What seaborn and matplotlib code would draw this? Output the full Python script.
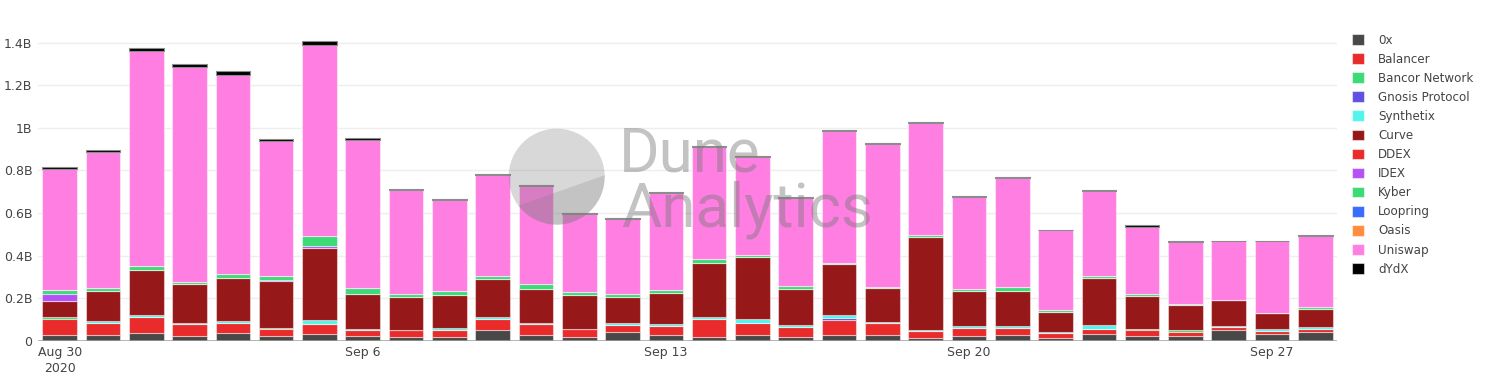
import numpy as np
import pandas as pd
import matplotlib
matplotlib.use("Agg")
import matplotlib.pyplot as plt
from matplotlib.patches import Patch, Polygon
import seaborn as sns

# ---------------- data (billions USD) ----------------
dates = ["2020-08-30", "2020-08-31", "2020-09-01", "2020-09-02", "2020-09-03",
         "2020-09-04", "2020-09-05", "2020-09-06", "2020-09-07", "2020-09-08",
         "2020-09-09", "2020-09-10", "2020-09-11", "2020-09-12", "2020-09-13",
         "2020-09-14", "2020-09-15", "2020-09-16", "2020-09-17", "2020-09-18",
         "2020-09-19", "2020-09-20", "2020-09-21", "2020-09-22", "2020-09-23",
         "2020-09-24", "2020-09-25", "2020-09-26", "2020-09-27", "2020-09-28"]

zerox = [0.025, 0.027, 0.038, 0.023, 0.034, 0.020, 0.030, 0.020, 0.017, 0.017,
         0.052, 0.025, 0.016, 0.039, 0.025, 0.019, 0.025, 0.019, 0.025, 0.025,
         0.013, 0.021, 0.027, 0.014, 0.033, 0.023, 0.023, 0.049, 0.033, 0.039]
balancer = [0.078, 0.054, 0.072, 0.054, 0.049, 0.035, 0.047, 0.030, 0.032, 0.035,
            0.048, 0.052, 0.037, 0.035, 0.042, 0.083, 0.058, 0.044, 0.071, 0.056,
            0.034, 0.040, 0.034, 0.022, 0.022, 0.026, 0.019, 0.015, 0.014, 0.017]
bancor = [0.007, 0.000, 0.000, 0.000, 0.000, 0.005, 0.000, 0.000, 0.000, 0.000,
          0.000, 0.000, 0.003, 0.000, 0.000, 0.000, 0.000, 0.000, 0.000, 0.000,
          0.000, 0.000, 0.000, 0.000, 0.000, 0.006, 0.007, 0.000, 0.000, 0.000]
gnosis = [0.000, 0.000, 0.000, 0.000, 0.000, 0.000, 0.000, 0.000, 0.000, 0.000,
          0.000, 0.000, 0.000, 0.000, 0.000, 0.000, 0.000, 0.000, 0.010, 0.000,
          0.000, 0.000, 0.000, 0.000, 0.000, 0.000, 0.000, 0.000, 0.000, 0.000]
synthetix = [0.002, 0.013, 0.011, 0.006, 0.009, 0.000, 0.020, 0.005, 0.003, 0.009,
             0.010, 0.008, 0.000, 0.007, 0.011, 0.009, 0.020, 0.011, 0.014, 0.008,
             0.005, 0.007, 0.008, 0.005, 0.020, 0.000, 0.000, 0.006, 0.006, 0.007]
curve = [0.073, 0.138, 0.213, 0.182, 0.201, 0.219, 0.340, 0.166, 0.152, 0.155,
         0.178, 0.159, 0.160, 0.124, 0.144, 0.254, 0.288, 0.167, 0.239, 0.157,
         0.437, 0.167, 0.163, 0.092, 0.218, 0.156, 0.117, 0.121, 0.077, 0.087]
ddex = [0.0] * 30
idex = [0.034, 0.000, 0.000, 0.000, 0.000, 0.008, 0.009, 0.000, 0.000, 0.000,
        0.000, 0.000, 0.000, 0.000, 0.000, 0.000, 0.000, 0.000, 0.000, 0.000,
        0.000, 0.000, 0.000, 0.000, 0.000, 0.000, 0.000, 0.000, 0.000, 0.000]
kyber = [0.021, 0.017, 0.015, 0.012, 0.022, 0.018, 0.044, 0.026, 0.017, 0.019,
         0.017, 0.020, 0.014, 0.014, 0.016, 0.019, 0.013, 0.014, 0.007, 0.006,
         0.006, 0.009, 0.019, 0.009, 0.009, 0.010, 0.006, 0.002, 0.002, 0.007]
loopring = [0.0] * 30
oasis = [0.0] * 30
uniswap = [0.565, 0.639, 1.010, 1.009, 0.931, 0.633, 0.901, 0.697, 0.487, 0.426,
           0.472, 0.463, 0.367, 0.353, 0.454, 0.524, 0.460, 0.415, 0.621, 0.673,
           0.529, 0.431, 0.512, 0.379, 0.401, 0.315, 0.290, 0.277, 0.338, 0.336]
dydx = [0.009, 0.009, 0.017, 0.012, 0.021, 0.011, 0.018, 0.008, 0.004, 0.005,
        0.006, 0.004, 0.003, 0.003, 0.005, 0.005, 0.005, 0.005, 0.003, 0.004,
        0.003, 0.003, 0.006, 0.000, 0.005, 0.006, 0.005, 0.000, 0.000, 0.002]

series_names = ["0x", "Balancer", "Bancor Network", "Gnosis Protocol", "Synthetix",
                "Curve", "DDEX", "IDEX", "Kyber", "Loopring", "Oasis", "Uniswap", "dYdX"]
series_values = [zerox, balancer, bancor, gnosis, synthetix, curve, ddex, idex,
                 kyber, loopring, oasis, uniswap, dydx]
series_colors = ["#484848", "#e92b2b", "#3cdb77", "#6150e6", "#52f5ed", "#971818",
                 "#e92b2b", "#b651f6", "#3cdb77", "#3a6cfd", "#ff8d3f", "#ff7ee2", "#000000"]

tick_days = [0, 7, 14, 21, 28]
tick_labels = ["Aug 30\n2020", "Sep 6", "Sep 13", "Sep 20", "Sep 27"]
y_ticks = [0, 0.2, 0.4, 0.6, 0.8, 1.0, 1.2, 1.4]
y_labels = ["0", "0.2B", "0.4B", "0.6B", "0.8B", "1B", "1.2B", "1.4B"]

# ---------------- figure ----------------
sns.set_style("white")
plt.rcParams["font.family"] = ["DejaVu Sans"]

W, H = 1490, 381
fig = plt.figure(figsize=(W / 100, H / 100), dpi=100)
ax = fig.add_axes([38 / W, (H - 340.7) / H, (1337 - 38) / W, (340.7 - 25.6) / H])

df = pd.DataFrame({"date": dates})
bottom = np.zeros(len(dates))
for name, vals, col in zip(series_names, series_values, series_colors):
    v = np.asarray(vals, dtype=float)
    df["v"] = v
    edge = (1, 1, 1, 0.45) if name != "dYdX" else (0.55, 0.55, 0.55, 1)
    sns.barplot(data=df, x="date", y="v", ax=ax, color=col, saturation=1,
                errorbar=None, width=0.8, bottom=bottom, edgecolor=edge,
                linewidth=0.8, zorder=2)
    bottom = bottom + v

ax.set_xlim(-0.5, len(dates) - 0.5)
ax.set_ylim(0, 1.48)
ax.set_xlabel("")
ax.set_ylabel("")
ax.set_xticks(tick_days)
ax.set_xticklabels(tick_labels, fontsize=9, color="#444444", linespacing=1.3)
ax.set_yticks(y_ticks)
ax.set_yticklabels(y_labels, fontsize=9, color="#444444")
ax.tick_params(axis="both", length=0)
ax.tick_params(axis="x", pad=4)
ax.tick_params(axis="y", pad=4)
for s in ax.spines.values():
    s.set_visible(False)
ax.grid(axis="y", color="#eeeeee", linewidth=1, zorder=0)
ax.set_axisbelow(True)
ax.axhline(0, color="#a0a0a0", linewidth=1.8, zorder=3)

# legend
handles = [Patch(facecolor=c, edgecolor=(1, 1, 1, 0.5), linewidth=0.8) for c in series_colors]
fig.legend(handles, series_names, loc="upper left",
           bbox_to_anchor=(1352 / W, 1 - 33.5 / H), frameon=False,
           fontsize=8.6, handlelength=1.0, handleheight=1.0,
           handletextpad=1.2, labelspacing=0.51, borderpad=0, borderaxespad=0,
           labelcolor="#444444")

# watermark
wm = fig.add_axes([0, 0, 1, 1], zorder=5)
wm.set_xlim(0, W)
wm.set_ylim(H, 0)
wm.axis("off")
wm.patch.set_alpha(0)
cx, cy, r = 556.7, 176.7, 48
a0, a1 = np.deg2rad(-143), np.deg2rad(2)
t_low = np.linspace(a0, a1, 80)
low = np.column_stack([cx + r * np.cos(t_low), cy - r * np.sin(t_low)])
t_up = np.linspace(a1, a0 + 2 * np.pi, 120)
up = np.column_stack([cx + r * np.cos(t_up), cy - r * np.sin(t_up)])
wm.add_patch(Polygon(up, closed=True, facecolor="#7a7a7a", alpha=0.29, edgecolor="none"))
wm.add_patch(Polygon(low, closed=True, facecolor="#7a7a7a", alpha=0.45, edgecolor="none"))
wm.text(619, 172, "Dune", fontsize=44.6, family="Roboto", color="#7a7a7a",
        alpha=0.45, va="baseline", ha="left")
wm.text(621, 226.5, "Analytics", fontsize=44.6, family="Roboto", color="#7a7a7a",
        alpha=0.45, va="baseline", ha="left")

fig.savefig("out.png", dpi=100)
